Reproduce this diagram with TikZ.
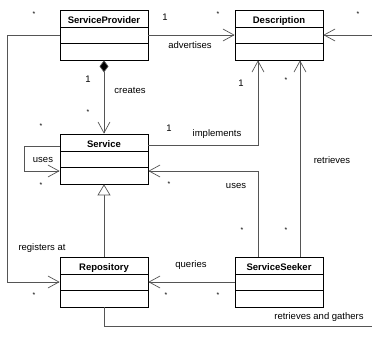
\documentclass[tikz,border=0pt]{standalone}
\usepackage{fontspec}
\setmainfont{Liberation Sans}
\usetikzlibrary{arrows.meta}
\definecolor{linegray}{RGB}{85,85,85}

\begin{document}
\begin{tikzpicture}[x=1pt, y=-1pt,
    umlclass/.style={draw, line width=0.7pt, minimum width=88pt, minimum height=50pt, inner sep=0pt,
        text height=13pt, text depth=37pt, font=\fontsize{9.5}{11}\selectfont\bfseries,
        path picture={
            \draw[line width=0.7pt] ([yshift=-17.5pt]path picture bounding box.north west) -- ([yshift=-17.5pt]path picture bounding box.north east);
            \draw[line width=0.7pt] ([yshift=-33.5pt]path picture bounding box.north west) -- ([yshift=-33.5pt]path picture bounding box.north east);
        }},
    assoc/.style={draw=linegray, line width=0.7pt, -{Straight Barb[length=11pt, width=12pt]}},
    plain/.style={draw=linegray, line width=0.7pt},
    mult/.style={font=\fontsize{7}{8}\selectfont, inner sep=0pt},
    lbl/.style={font=\fontsize{9.5}{11}\selectfont, inner sep=0pt}]

    \useasboundingbox (0,0) rectangle (372,338);

    % Draw class boxes
    \node[umlclass] (SP) at (104,35) {ServiceProvider};
    \node[umlclass] (Desc) at (279,35) {Description};
    \node[umlclass] (Service) at (104,159) {Service};
    \node[umlclass] (Repo) at (104,282) {Repository};
    \node[umlclass] (Seeker) at (279,282) {ServiceSeeker};

    % Free ends at the picture's edge
    \coordinate (rightedge) at (372,35);
    \coordinate (bottomedge) at (372,326);

    % Draw connectors
    \draw[assoc] (SP.west) -- ++(-52,0) |- (Repo.west);
    \draw[assoc] (SP.east) -- (Desc.west);
    \draw[assoc] (rightedge) -- (Desc.east);
    \draw[draw=linegray, line width=0.7pt, {Diamond[length=12pt, width=9pt, fill=black]}-{Straight Barb[length=11pt, width=12pt]}] (SP.south) -- (Service.north);
    \draw[assoc] ([yshift=14pt]Service.east) -| ([xshift=-21pt]Desc.south);
    \draw[assoc] ([yshift=13pt]Service.west) -- ++(-35,0) |- ([yshift=-12pt]Service.west);
    \draw[assoc] ([xshift=-21pt]Seeker.north) |- ([yshift=-12pt]Service.east);
    \draw[assoc] ([xshift=21pt]Seeker.north) -- ([xshift=21pt]Desc.south);
    \draw[draw=linegray, line width=0.7pt, -{Triangle[open, length=11pt, width=13pt, fill=white]}] (Repo.north) -- (Service.south);
    \draw[assoc] (Seeker.west) -- (Repo.east);
    \draw[plain] (Repo.south) |- (bottomedge);

    % Draw labels
    \node[mult] (m1) at (34,14) {*};
    \node[lbl] (m2) at (165,17) {1};
    \node[lbl] (advertises) at (190,45) {advertises};
    \node[mult] (m3) at (218,14) {*};
    \node[mult] (m4) at (358,14) {*};
    \node[lbl] (m5) at (88,79) {1};
    \node[lbl] (creates) at (130,90) {creates};
    \node[mult] (m6) at (88,112) {*};
    \node[lbl] (m7) at (241,83) {1};
    \node[mult] (m8) at (286,80) {*};
    \node[mult] (m9) at (41,126) {*};
    \node[lbl] (m10) at (169,128) {1};
    \node[lbl] (implements) at (217,134) {implements};
    \node[lbl] (selfuses) at (43,160) {uses};
    \node[mult] (m11) at (41,185) {*};
    \node[mult] (m12) at (169,184) {*};
    \node[lbl] (uses) at (236,186) {uses};
    \node[lbl] (retrieves) at (332,160) {retrieves};
    \node[mult] (m13) at (242,230) {*};
    \node[mult] (m14) at (286,230) {*};
    \node[lbl] (registers) at (42,248) {registers at};
    \node[lbl] (queries) at (191,265) {queries};
    \node[mult] (m15) at (34,295) {*};
    \node[mult] (m16) at (166,295) {*};
    \node[mult] (m17) at (218,295) {*};
    \node[lbl] (gathers) at (319,317) {retrieves and gathers};
\end{tikzpicture}
\end{document}
